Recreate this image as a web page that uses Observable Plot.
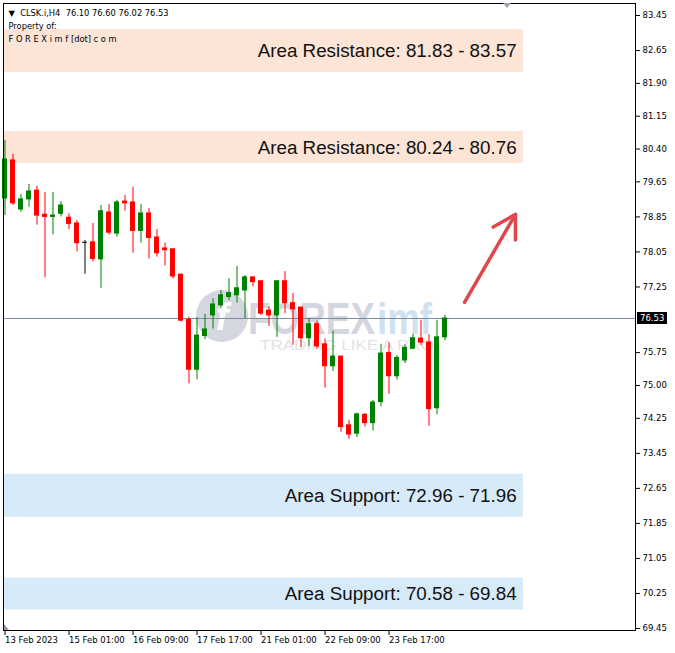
<!DOCTYPE html>
<html><head><meta charset="utf-8">
<script src="https://cdn.jsdelivr.net/npm/d3@7"></script>
<script src="https://cdn.jsdelivr.net/npm/@observablehq/plot@0.6"></script>
<style>
body{margin:0;background:#fff;}
#chart{position:relative;width:675px;height:653px;}
</style></head><body><div id="chart"></div>
<script>
const headerText = "▼  CLSK.i,H4  76.10 76.60 76.02 76.53\nProperty of:\nF O R E X i m f [dot] c o m";
const opens  = [79.27,80.14,79.02,79.25,79.45,78.90,78.85,78.92,78.83,78.70,78.26,78.27,77.88,78.95,78.47,79.20,79.18,78.53,78.93,78.38,78.13,78.11,77.53,76.50,75.36,76.13,76.60,76.83,77.02,77.06,77.17,77.47,77.38,76.71,76.60,77.38,76.88,76.78,76.08,76.40,75.94,75.44,75.66,74.09,73.90,74.33,74.14,74.62,75.74,75.21,75.57,75.84,76.07,75.98,74.48,76.10];
const highs  = [80.60,80.28,79.36,79.59,79.55,79.41,79.41,79.20,78.92,78.77,78.31,78.70,79.11,79.13,79.23,79.34,79.53,79.13,79.04,78.56,78.25,78.13,77.54,76.56,76.55,76.62,76.98,77.17,77.44,77.72,77.51,77.47,77.38,76.79,77.40,77.60,77.10,76.78,76.53,76.47,76.06,76.24,75.66,74.20,74.37,74.36,74.66,75.94,75.97,75.69,75.93,76.17,76.49,76.16,76.49,76.60];
const lows   = [78.88,79.11,78.96,79.07,78.66,77.46,78.44,78.85,78.56,78.05,77.54,77.82,77.22,78.43,78.39,78.98,78.02,78.25,77.89,77.93,77.73,77.43,76.45,75.04,75.13,76.05,76.29,76.77,76.94,76.88,76.53,77.25,76.60,76.35,76.10,76.64,75.92,75.86,75.89,75.82,74.94,75.32,73.93,73.77,73.81,74.05,73.96,74.51,74.80,75.12,75.50,75.82,75.91,74.07,74.33,76.02];
const closes = [80.16,79.16,79.25,79.43,78.88,78.85,78.88,79.11,78.69,78.25,78.26,77.89,78.98,78.49,79.18,79.16,78.53,78.93,78.37,78.02,78.09,77.49,76.48,75.36,76.14,76.28,76.85,77.06,77.11,77.22,77.47,77.36,76.64,76.60,77.38,76.88,76.74,76.08,76.40,75.89,75.44,75.66,74.05,73.88,74.34,74.14,74.61,75.73,75.21,75.63,75.86,76.08,75.98,74.46,76.10,76.53];
const xTickIndex  = [0,8,16,24,32,40,48];
const xTickLabels = ["13 Feb 2023","15 Feb 01:00","16 Feb 09:00","17 Feb 17:00","21 Feb 01:00","22 Feb 09:00","23 Feb 17:00"];
const yTicks = [83.45,82.65,81.90,81.15,80.40,79.65,78.85,78.05,77.25,75.75,75.00,74.25,73.45,72.65,71.85,71.05,70.25,69.45];
const zoneKinds  = ["res","res","sup","sup"];
const zoneHigh   = [83.13,80.80,72.97,70.60];
const zoneLow    = [82.15,80.07,71.99,69.87];
const zoneLabels = ["Area Resistance: 81.83 - 83.57","Area Resistance: 80.24 - 80.76","Area Support: 72.96 - 71.96","Area Support: 70.58 - 69.84"];
const zoneStart = -0.06, zoneEnd = 64.8;
const arrowX = [57.44, 63.81];
const arrowY = [76.90, 78.91];

const candles = opens.map((o, i) => ({
  i, o, h: highs[i], l: lows[i], c: closes[i],
  col: closes[i] > o ? "#008000" : closes[i] < o ? "#ff0000" : "#000000"
}));
const zones = zoneKinds.map((k, j) => ({k, hi: zoneHigh[j], lo: zoneLow[j], label: zoneLabels[j],
  fill: k === "res" ? "#fce4d6" : "#d6eaf8"}));
const lastClose = closes[closes.length - 1];

const chart = Plot.plot({
  width: 675, height: 653,
  marginLeft: 3, marginRight: 40, marginTop: 3, marginBottom: 23,
  x: {domain: [-0.1875, 78.8125]},
  y: {domain: [69.404, 83.724]},
  color: {type: "identity"},
  style: {fontFamily: "DejaVu Sans", fontSize: "8.5px", background: "white", color: "black"},
  marks: [
    Plot.rect(zones, {x1: zoneStart, x2: zoneEnd, y1: "lo", y2: "hi", fill: "fill"}),
    Plot.ruleY([lastClose], {stroke: "#7d8ba0", strokeWidth: 1}),
    Plot.ruleX(candles, {x: "i", y1: "l", y2: "h", stroke: "col", strokeWidth: 1}),
    Plot.rect(candles, {x1: d => d.i - 0.3125, x2: d => d.i + 0.3125,
      y1: d => Math.min(d.o, d.c), y2: d => Math.max(d.o, d.c), fill: "col",
      insetTop: -0.5, insetBottom: -0.5}),
    Plot.text(zones, {x: 63.95, y: d => (d.hi + d.lo) / 2, text: "label", textAnchor: "end",
      fontSize: 18.8, fontFamily: "Liberation Sans", fill: "#111"}),
    Plot.arrow([0], {x1: arrowX[0], y1: arrowY[0], x2: arrowX[1], y2: arrowY[1],
      stroke: "#e0474c", strokeWidth: 3.5, headLength: 11}),
    Plot.text([headerText], {frameAnchor: "top-left", dx: 5, dy: 3, lineAnchor: "top",
      lineHeight: 1.6, fontSize: 8.3, text: d => d, fill: "black"}),
    Plot.axisY(yTicks, {anchor: "right", tickSize: 4, tickPadding: 3, label: null,
      tickFormat: d => d.toFixed(2), fontSize: 8.5}),
    Plot.axisX(xTickIndex, {anchor: "bottom", tickSize: 5, tickPadding: 1, label: null,
      textAnchor: "start", tickFormat: d => xTickLabels[xTickIndex.indexOf(d)], fontSize: 8.5}),
    Plot.frame({stroke: "black"})
  ]
});
document.getElementById("chart").appendChild(chart);

const svg = d3.select(chart);
// watermark (decoration behind the candles)
const wm = svg.insert("g", ":first-child").attr("class", "watermark").attr("text-anchor", "start");
wm.append("circle").attr("cx", 222).attr("cy", 316).attr("r", 26).attr("fill", "#d4d7e0");
wm.append("text").attr("x", 222).attr("y", 330).attr("text-anchor", "middle")
  .style("font", "italic bold 38px 'Liberation Sans'").attr("fill", "#ffffff").text("f");
wm.append("text").attr("x", 248).attr("y", 334).attr("textLength", 127).attr("lengthAdjust", "spacingAndGlyphs")
  .style("font", "bold 44px 'Liberation Sans'").attr("fill", "#d3d6df").text("FOREX");
wm.append("text").attr("x", 377).attr("y", 334).attr("textLength", 55).attr("lengthAdjust", "spacingAndGlyphs")
  .style("font", "bold 44px 'Liberation Sans'").attr("fill", "#cfe2f2").text("imf");
wm.append("text").attr("x", 260).attr("y", 350).attr("textLength", 174).attr("lengthAdjust", "spacingAndGlyphs")
  .style("font", "15px 'Liberation Sans'").attr("fill", "#e1e3e8").text("TRADING LIKE A PRO");
// shift markers
svg.append("polygon").attr("points", "503,3 511,3 507,8").attr("fill", "#9aa3b0");
svg.append("polygon").attr("points", "4,624 4,630 9,630").attr("fill", "#8c96a8");
// price label on the axis
const yPrice = chart.scale("y").apply(lastClose);
svg.append("rect").attr("x", 637).attr("y", yPrice - 6).attr("width", 30).attr("height", 12).attr("fill", "black");
svg.append("text").attr("x", 640).attr("y", yPrice).attr("dy", "0.35em").attr("text-anchor", "start")
  .attr("fill", "white").style("font", "8.5px 'DejaVu Sans'").text(lastClose.toFixed(2));
</script></body></html>
